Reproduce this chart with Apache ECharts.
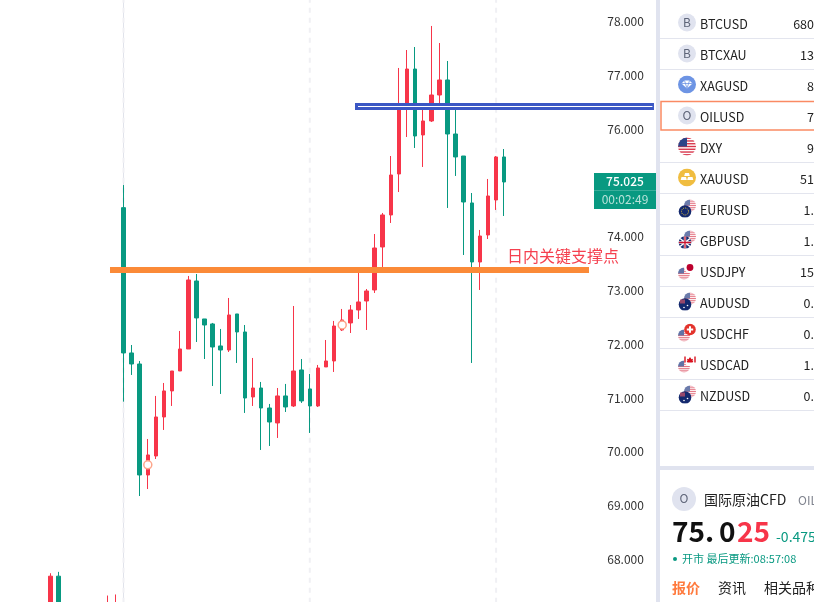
<!DOCTYPE html>
<html>
<head>
<meta charset="utf-8">
<style>
  html, body { margin: 0; padding: 0; background: #fff; overflow: hidden; }
  .kline { width: 814px; height: 602px; }
</style>
<script src="https://cdn.jsdelivr.net/npm/echarts@6/dist/echarts.min.js"></script>
</head>
<body>
<div class="kline"></div>
<script>
// open, close, low, high
const candles = [
  [74.54, 71.839, 70.934, 74.96], [71.839, 71.634, 71.43, 71.987], [71.634, 69.571, 69.18, 71.69],
  [69.571, 69.943, 69.31, 70.24], [69.924, 70.649, 69.868, 71.04], [70.649, 71.133, 70.408, 71.281],
  [71.133, 71.504, 70.854, 71.504], [71.504, 71.913, 71.504, 72.248], [71.913, 73.196, 71.913, 73.27],
  [73.177, 72.49, 72.043, 73.307], [72.471, 72.359, 71.727, 72.471], [72.378, 71.95, 71.225, 72.397],
  [71.969, 71.894, 71.077, 72.285], [71.894, 72.545, 71.857, 72.861], [72.564, 72.229, 71.653, 72.564],
  [72.229, 71.002, 70.724, 72.359], [71.021, 71.188, 70.854, 71.746], [71.188, 70.816, 70.036, 71.3],
  [70.816, 70.556, 70.11, 70.891], [70.538, 71.04, 70.259, 71.188], [71.04, 70.835, 70.742, 71.263],
  [70.854, 71.504, 70.835, 72.712], [71.523, 70.947, 70.91, 71.727], [71.17, 70.854, 70.352, 71.449],
  [70.854, 71.56, 70.835, 71.616], [71.579, 71.69, 71.579, 72.08], [71.69, 72.34, 71.486, 72.434],
  [72.266, 72.452, 72.248, 72.657], [72.397, 72.638, 72.21, 72.73], [72.638, 72.787, 72.471, 73.33],
  [72.805, 72.991, 72.266, 73.028], [73.01, 73.79, 72.954, 74.05], [73.809, 74.404, 73.437, 74.441],
  [74.404, 75.147, 74.255, 75.5], [75.166, 76.448, 74.83, 77.136], [76.448, 77.117, 75.853, 77.47],
  [77.117, 75.872, 75.649, 77.526], [75.891, 76.151, 75.296, 76.411], [76.151, 76.634, 76.132, 77.917],
  [76.634, 76.913, 76.485, 77.6], [76.913, 75.909, 74.534, 77.266], [75.909, 75.482, 75.129, 76.355],
  [75.5, 74.645, 73.66, 75.5], [74.627, 73.53, 71.653, 74.812], [73.53, 74.013, 73.01, 74.125],
  [74.032, 74.757, 73.957, 75.073], [74.683, 75.482, 74.497, 75.5], [75.482, 75.017, 74.385, 75.63]
];
// the older bars that only just show at the bottom left
const olderCandles = [
  [-9, [67, 67.69, 67, 67.745]], [-8, [67.69, 67, 67, 67.77]],
  [-2, [67, 67.1, 67, 67.33]], [-1, [67, 67.2, 67, 67.35]]
];
const firstSlot = -15;
const lastSlot = 66;
const yMin = 67;
const yMax = 79;
const sessionSlots = [0, 23, 46];
const markerPoints = [[3, 69.76], [27, 72.36]];
const supportLine = [[-1.667, 73.38], [57.47, 73.38]];
const resistanceLine = [[28.58, 76.42], [65.49, 76.42]];
const resistanceInner = [[28.95, 76.42], [65.3, 76.42]];

const symbols = ['BTCUSD', 'BTCXAU', 'XAGUSD', 'OILUSD', 'DXY', 'XAUUSD', 'EURUSD', 'GBPUSD', 'USDJPY', 'AUDUSD', 'USDCHF', 'USDCAD', 'NZDUSD'];
const prices = ['680', '13', '8', '7', '9', '51', '1.', '1.', '15', '0.', '0.', '1.', '0.'];
const icons = ['B', 'B', 'xag', 'O', 'usd', 'xau', 'eur', 'gbp', 'jpy', 'aud', 'chf', 'cad', 'nzd'];

const red = '#f73549';
const green = '#089981';
const cjk = '"Noto Sans CJK SC", "Noto Sans", sans-serif';

const slots = [];
const bars = [];
for (let i = firstSlot; i <= lastSlot; i++) {
  slots.push(String(i));
  let bar = ['-', '-', '-', '-'];
  if (i >= 0 && i < candles.length) bar = candles[i];
  olderCandles.forEach((c) => { if (c[0] === i) bar = c[1]; });
  bars.push(bar);
}

const sessionLines = [];
sessionSlots.forEach((s) => {
  sessionLines.push([s, yMax], [s, yMin], ['-', '-']);
});

// little flag pictures, kept as inline svg because they need a round clip
const usFlag = (cx, cy, r, fade) => {
  let s = `<g clip-path="url(#c${cx})" opacity="${fade}"><rect x="${cx - r}" y="${cy - r}" width="${2 * r}" height="${2 * r}" fill="#fff"/>`;
  for (let i = 0; i < 7; i++) {
    s += `<rect x="${cx - r}" y="${cy - r + i * 2 * r / 6.5}" width="${2 * r}" height="${r / 6.5}" fill="#d8354a"/>`;
  }
  s += `<rect x="${cx - r}" y="${cy - r}" width="${r}" height="${r}" fill="#2d4488"/></g>`;
  return `<clipPath id="c${cx}"><circle cx="${cx}" cy="${cy}" r="${r}"/></clipPath>` + s;
};
const flagSvg = (name) => {
  let body = '';
  const navy = (extra) => `<circle cx="7" cy="12" r="6.3" fill="#14296e"/>${extra}`;
  if (name === 'usd') body = usFlag(9, 9, 9, 1);
  if (name === 'eur') body = usFlag(12, 6, 6, 0.7) + navy('<circle cx="7" cy="12" r="3.5" fill="none" stroke="#e8c93c" stroke-width="1" stroke-dasharray="1 1"/>');
  if (name === 'gbp') body = usFlag(12, 6, 6, 0.7) + navy('<path d="M2 8l10 8M12 8L2 16" stroke="#fff" stroke-width="1.6"/><path d="M7 6v12M1 12h12" stroke="#fff" stroke-width="2.4"/><path d="M7 6v12M1 12h12" stroke="#c8102e" stroke-width="1.3"/>');
  if (name === 'aud' || name === 'nzd') body = usFlag(12, 6, 6, 0.7) + navy('<rect x="2" y="7" width="5" height="4" fill="#b8506a" opacity=".8"/><circle cx="9.5" cy="13" r=".8" fill="#fff"/><circle cx="6" cy="15" r=".8" fill="#fff"/>');
  if (name === 'jpy') body = usFlag(6, 12, 6, 0.75) + '<circle cx="12" cy="6" r="5.8" fill="#fff"/><circle cx="12" cy="6" r="3.4" fill="#bc002d"/>';
  if (name === 'chf') body = usFlag(6, 12, 6, 0.75) + '<circle cx="12" cy="6" r="5.8" fill="#e3332c"/><path d="M12 2.8v6.4M8.8 6h6.4" stroke="#fff" stroke-width="2"/>';
  if (name === 'cad') body = usFlag(6, 12, 6, 0.75) + '<circle cx="12" cy="6" r="5.8" fill="#fff"/><path d="M12 2.5l1.5 2.2 1.5-.5-.5 2.3 1-.2-1 1.7h-5l-1-1.7 1 .2-.5-2.3 1.5.5z" fill="#d8121e"/><rect x="6.3" y="2" width="1.4" height="6" fill="#d8121e"/><rect x="16.3" y="2" width="1.4" height="6" fill="#d8121e"/>';
  if (name === 'xag') body = '<circle cx="9" cy="9" r="9" fill="#6d94e4"/><path d="M3.5 8l3-3h5l3 3-5.5 5z" fill="#fff"/><path d="M6.5 5l2.5 8 2.5-8M3.5 8h11" stroke="#6d94e4" stroke-width=".8" fill="none"/>';
  if (name === 'xau') body = '<circle cx="9" cy="9" r="9" fill="#f0bd40"/><path d="M7 4.5h4l.8 3H6.200zM3.500 8.500h4.500l.8 3H2.700zM10 8.500h4.500l.8 3H9.200z" fill="#fff"/>';
  return 'data:image/svg+xml;charset=utf-8,' + encodeURIComponent(`<svg xmlns="http://www.w3.org/2000/svg" width="18" height="18" viewBox="0 0 18 18">${body}</svg>`);
};

const label = (x, y, text, fontSize, fill, extra) => ({
  type: 'text',
  x,
  y,
  z: 50,
  silent: true,
  style: Object.assign({ text, fontSize, fill, fontFamily: cjk, verticalAlign: 'middle', align: 'left' }, extra || {}),
});
const box = (x, y, width, height, fill) => ({ type: 'rect', z: 40, silent: true, shape: { x, y, width, height }, style: { fill } });

const panel = [
  box(594, 173, 62, 36, green),
  box(594, 190, 62, 1, '#3aae9b'),
  label(625, 181.5, '75.025', 12, '#fff', { align: 'center', fontWeight: 500 }),
  label(625, 199.5, '00:02:49', 12, '#b9e3da', { align: 'center' }),
  label(507, 256, '日内关键支撑点', 16, '#f5404f'),
  box(656, 0, 4, 602, '#e0e3ef'),
  box(660, 466, 154, 4, '#e0e3ef'),
];
symbols.forEach((name, i) => {
  const mid = 24 + i * 31;
  if (i !== 3 && i !== 2) panel.push(box(660, Math.floor(mid + 14.5), 154, 1, '#e3e5ee'));
  const icon = icons[i];
  if (icon === 'B' || icon === 'O') {
    panel.push({ type: 'circle', silent: true, z: 45, shape: { cx: 687, cy: mid - 1.5, r: 9 }, style: { fill: '#e0e3ef' } });
    panel.push(label(687, mid - 2, icon, 12, '#5d6478', { align: 'center' }));
  } else {
    panel.push({ type: 'image', silent: true, z: 45, style: { image: flagSvg(icon), x: 678, y: mid - 10.5, width: 18, height: 18 } });
  }
  panel.push(label(700, mid, name, 12.5, '#222'));
  panel.push(label(814, mid, prices[i], 12.5, '#222', { align: 'right' }));
});
panel.push({
  type: 'rect', silent: true, z: 46,
  shape: { x: 661, y: 101.500, width: 160, height: 28.500 },
  style: { fill: 'none', stroke: '#fa8a63', lineWidth: 1.5 },
});
panel.push(
  { type: 'circle', silent: true, z: 45, shape: { cx: 684, cy: 499, r: 12 }, style: { fill: '#e0e3ef' } },
  label(684, 498.500, 'O', 12, '#5d6478', { align: 'center' }),
  label(704, 499.500, '国际原油CFD', 14, '#222'),
  label(798, 500, 'OIL', 12, '#80848f'),
  label(672, 531, '75.', 28, '#111', { fontWeight: 700 }),
  label(719, 531, '0', 28, '#111', { fontWeight: 700 }),
  label(737, 531, '25', 28, red, { fontWeight: 700 }),
  label(776, 537, '-0.475', 14, green),
  { type: 'circle', silent: true, z: 45, shape: { cx: 675, cy: 559, r: 2 }, style: { fill: green } },
  label(682, 559, '开市 最后更新:08:57:08', 11, green),
  label(672, 588, '报价', 14, '#ff7a3d', { fontWeight: 700 }),
  label(718, 588, '资讯', 14, '#222'),
  label(764, 588, '相关品种', 14, '#222')
);

const myChart = echarts.init(document.querySelector('.kline'));
myChart.setOption({
  animation: false,
  textStyle: { fontFamily: cjk },
  grid: { left: 2, top: -32.300, width: 656.100, height: 645.600, outerBoundsMode: 'none' },
  xAxis: [
    { type: 'category', data: slots, boundaryGap: false, show: false },
    { type: 'value', min: firstSlot, max: lastSlot, show: false },
  ],
  yAxis: {
    type: 'value',
    position: 'right',
    offset: -64.800,
    min: yMin,
    max: yMax,
    interval: 1,
    splitLine: { show: false },
    axisTick: { show: false },
    axisLine: { show: true, lineStyle: { color: '#e0e3eb' } },
    axisLabel: { color: '#333', fontSize: 12, margin: 14, formatter: (v) => v.toFixed(3) },
  },
  series: [
    {
      type: 'line',
      xAxisIndex: 1,
      data: sessionLines,
      symbol: 'none',
      silent: true,
      z: 1,
      lineStyle: { color: '#f0f0f4', width: 2, type: [5, 5] },
    },
    {
      type: 'candlestick',
      data: bars,
      barWidth: 4,
      z: 2,
      itemStyle: { color: red, color0: green, borderColor: red, borderColor0: green, borderWidth: 1 },
    },
    {
      type: 'scatter',
      data: markerPoints.map((p) => [p[0] - firstSlot, p[1]]),
      symbolSize: 8,
      silent: true,
      z: 3,
      itemStyle: { color: '#fff', borderColor: '#fda58a', borderWidth: 1.5, opacity: 1 },
    },
    {
      type: 'line',
      xAxisIndex: 1,
      data: supportLine,
      symbol: 'none',
      silent: true,
      z: 4,
      lineStyle: { color: '#fb8a38', width: 6, cap: 'butt' },
    },
    {
      type: 'line',
      xAxisIndex: 1,
      data: resistanceLine,
      symbol: 'none',
      silent: true,
      z: 4,
      lineStyle: { color: '#3b57c4', width: 7, cap: 'butt' },
    },
    {
      type: 'line',
      xAxisIndex: 1,
      data: resistanceInner,
      symbol: 'none',
      silent: true,
      z: 5,
      lineStyle: { color: '#fff', width: 1, cap: 'butt' },
    },
  ],
  graphic: { elements: panel },
});
</script>
</body>
</html>
